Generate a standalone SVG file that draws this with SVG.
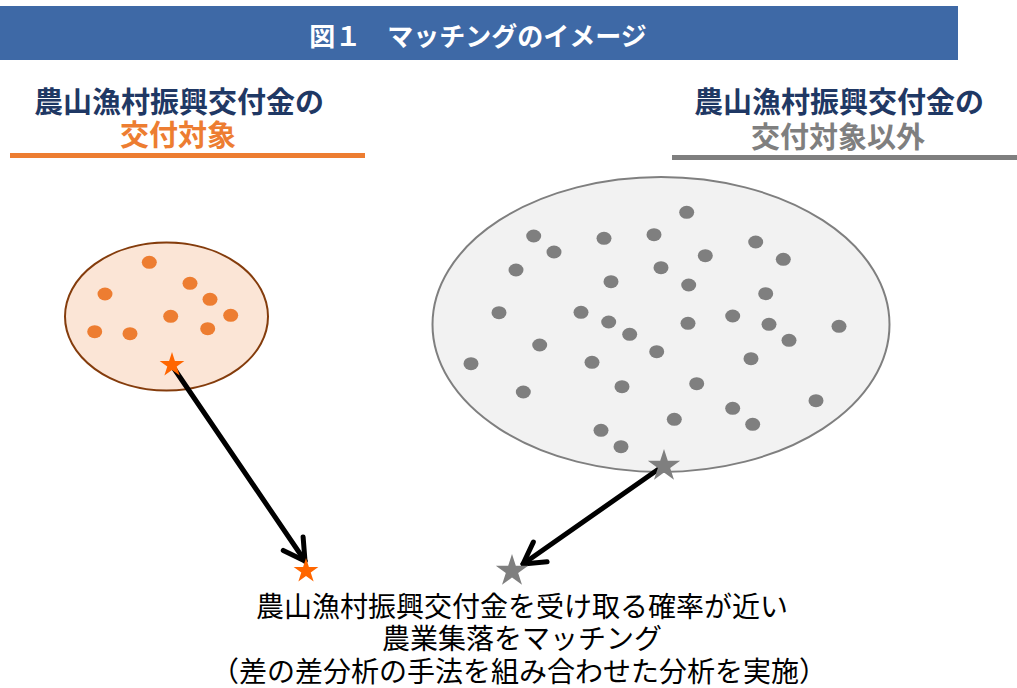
<svg xmlns="http://www.w3.org/2000/svg" width="1017" height="688" viewBox="0 0 1017 688">
<style>
.hd{font-family:"Noto Sans CJK JP","Noto Sans CJK SC",sans-serif;font-weight:700;text-anchor:middle;dominant-baseline:central}
.cap{font-family:"Noto Sans CJK JP","Noto Sans CJK SC",sans-serif;font-weight:400;font-size:28px;fill:#000;text-anchor:middle;dominant-baseline:central}
.od{fill:#ED7D31}
.gd{fill:#7F7F7F}
.conn{stroke:#000;stroke-width:5;fill:none;stroke-linecap:round}
</style>
<defs>
<polygon id="star" points="0,-1 0.2245,-0.309 0.951,-0.309 0.363,0.118 0.588,0.809 0,0.382 -0.588,0.809 -0.363,0.118 -0.951,-0.309 -0.2245,-0.309"/>
<marker id="chev" markerUnits="userSpaceOnUse" markerWidth="40" markerHeight="40" viewBox="-30 -20 40 40" refX="0" refY="0" orient="auto">
<path d="M -21 -12 L 0 0 L -21 12" fill="none" stroke="#000" stroke-width="5" stroke-linecap="round" stroke-linejoin="round"/>
</marker>
<ellipse id="dot" rx="7.5" ry="6.5"/>
</defs>

<g id="title">
<rect x="0" y="6" width="958" height="54" fill="#3E69A6"/>
<text class="hd" x="478" y="34" font-size="26" fill="#FFFFFF">図１　マッチングのイメージ</text>
</g>

<g id="heading-left">
<text class="hd" x="179" y="100" font-size="29" fill="#1F3864">農山漁村振興交付金の</text>
<text class="hd" x="178" y="133" font-size="29" fill="#ED7D31">交付対象</text>
<rect x="10" y="153" width="355" height="5" fill="#ED7D31"/>
</g>

<g id="heading-right">
<text class="hd" x="839" y="100" font-size="29" fill="#1F3864">農山漁村振興交付金の</text>
<text class="hd" x="838" y="135" font-size="29" fill="#7F7F7F">交付対象以外</text>
<rect x="672" y="155" width="345" height="5" fill="#7F7F7F"/>
</g>

<g id="set-left">
<ellipse cx="166.5" cy="316.5" rx="101.5" ry="74" fill="#FBE5D6" stroke="#843C0C" stroke-width="2"/>
<g class="od">
<use href="#dot" x="149.3" y="262.3"/>
<use href="#dot" x="190" y="283.3"/>
<use href="#dot" x="105" y="294"/>
<use href="#dot" x="210" y="299.3"/>
<use href="#dot" x="170.7" y="316.3"/>
<use href="#dot" x="230.7" y="315.3"/>
<use href="#dot" x="94.7" y="331.7"/>
<use href="#dot" x="130" y="333.7"/>
<use href="#dot" x="207.7" y="328.7"/>
</g>
</g>

<g id="set-right">
<ellipse cx="661" cy="324.5" rx="228.5" ry="147.5" fill="#F2F2F2" stroke="#7F7F7F" stroke-width="2"/>
<g class="gd">
<use href="#dot" x="686.7" y="212.3"/>
<use href="#dot" x="533.7" y="236"/>
<use href="#dot" x="604" y="238.3"/>
<use href="#dot" x="654" y="234.7"/>
<use href="#dot" x="755.7" y="242"/>
<use href="#dot" x="554" y="252"/>
<use href="#dot" x="705.3" y="255.7"/>
<use href="#dot" x="783.3" y="259.3"/>
<use href="#dot" x="516" y="270"/>
<use href="#dot" x="661" y="267.7"/>
<use href="#dot" x="611" y="281.7"/>
<use href="#dot" x="688.7" y="285"/>
<use href="#dot" x="765.7" y="293.7"/>
<use href="#dot" x="499" y="312.7"/>
<use href="#dot" x="581" y="312.3"/>
<use href="#dot" x="608.7" y="322"/>
<use href="#dot" x="688" y="323.3"/>
<use href="#dot" x="732.7" y="316"/>
<use href="#dot" x="769" y="324.3"/>
<use href="#dot" x="839" y="326.3"/>
<use href="#dot" x="629.7" y="334.3"/>
<use href="#dot" x="789" y="340.3"/>
<use href="#dot" x="539.7" y="345"/>
<use href="#dot" x="656.7" y="351.7"/>
<use href="#dot" x="751" y="358.7"/>
<use href="#dot" x="471" y="363.7"/>
<use href="#dot" x="592" y="362.3"/>
<use href="#dot" x="622" y="386.7"/>
<use href="#dot" x="696.7" y="383.7"/>
<use href="#dot" x="523.3" y="392"/>
<use href="#dot" x="816" y="400.7"/>
<use href="#dot" x="732.7" y="408.3"/>
<use href="#dot" x="674.3" y="419.3"/>
<use href="#dot" x="752.7" y="424.3"/>
<use href="#dot" x="601" y="430.3"/>
<use href="#dot" x="621" y="446.7"/>
</g>
</g>

<g id="connectors">
<line class="conn" x1="173" y1="367" x2="305" y2="561" marker-end="url(#chev)"/>
<line class="conn" x1="663" y1="466" x2="523" y2="564" marker-end="url(#chev)"/>
</g>

<g id="star-left">
<use href="#star" transform="translate(172,365) scale(13)" fill="#FF6600"/>
</g>
<g id="star-right">
<use href="#star" transform="translate(664,466) scale(17)" fill="#7F7F7F"/>
</g>
<g id="match-orange">
<use href="#star" transform="translate(306,571) scale(13)" fill="#FF6600"/>
</g>
<g id="match-gray">
<use href="#star" transform="translate(512,571) scale(17)" fill="#7F7F7F"/>
</g>

<g id="caption">
<text class="cap" x="522" y="605">農山漁村振興交付金を受け取る確率が近い</text>
<text class="cap" x="522" y="637">農業集落をマッチング</text>
<text class="cap" x="519" y="670">（差の差分析の手法を組み合わせた分析を実施）</text>
</g>
</svg>
